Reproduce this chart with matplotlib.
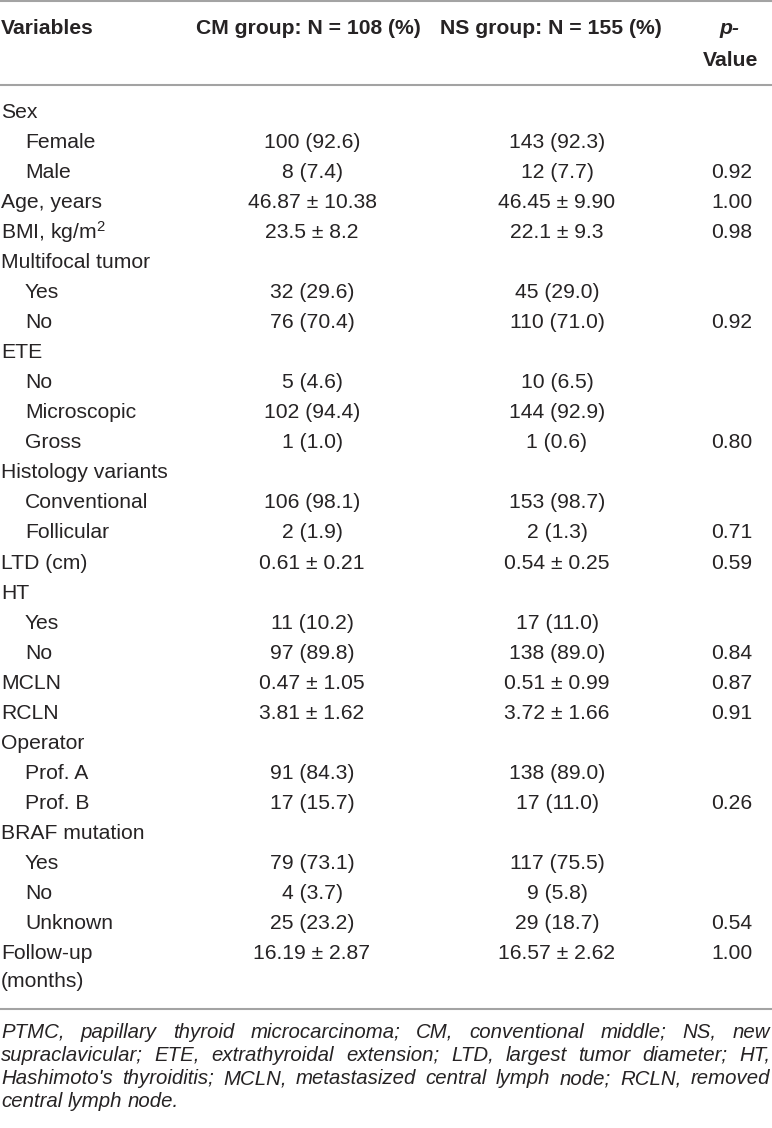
import matplotlib.pyplot as plt

plt.rcParams['font.family'] = ['Liberation Sans', 'DejaVu Sans']
plt.rcParams['mathtext.fontset'] = 'custom'
plt.rcParams['mathtext.rm'] = 'Liberation Sans'
plt.rcParams['mathtext.it'] = 'Liberation Sans:italic'

# Table content
headers = ['Variables', 'CM group: N = 108 (%)', 'NS group: N = 155 (%)']

variables = ['Sex', 'Female', 'Male', 'Age, years', 'BMI, kg/m$^{2}$',
             'Multifocal tumor', 'Yes', 'No', 'ETE', 'No', 'Microscopic', 'Gross',
             'Histology variants', 'Conventional', 'Follicular', 'LTD (cm)', 'HT',
             'Yes', 'No', 'MCLN', 'RCLN', 'Operator', 'Prof. A', 'Prof. B',
             'BRAF mutation', 'Yes', 'No', 'Unknown', 'Follow-up\n(months)']
indent = [0, 1, 1, 0, 0,
          0, 1, 1, 0, 1, 1, 1,
          0, 1, 1, 0, 0,
          1, 1, 0, 0, 0, 1, 1,
          0, 1, 1, 1, 0]
cm_vals = ['', '100 (92.6)', '8 (7.4)', '46.87 ± 10.38', '23.5 ± 8.2',
           '', '32 (29.6)', '76 (70.4)', '', '5 (4.6)', '102 (94.4)', '1 (1.0)',
           '', '106 (98.1)', '2 (1.9)', '0.61 ± 0.21', '',
           '11 (10.2)', '97 (89.8)', '0.47 ± 1.05', '3.81 ± 1.62', '', '91 (84.3)', '17 (15.7)',
           '', '79 (73.1)', '4 (3.7)', '25 (23.2)', '16.19 ± 2.87']
ns_vals = ['', '143 (92.3)', '12 (7.7)', '46.45 ± 9.90', '22.1 ± 9.3',
           '', '45 (29.0)', '110 (71.0)', '', '10 (6.5)', '144 (92.9)', '1 (0.6)',
           '', '153 (98.7)', '2 (1.3)', '0.54 ± 0.25', '',
           '17 (11.0)', '138 (89.0)', '0.51 ± 0.99', '3.72 ± 1.66', '', '138 (89.0)', '17 (11.0)',
           '', '117 (75.5)', '9 (5.8)', '29 (18.7)', '16.57 ± 2.62']
p_vals = ['', '', '0.92', '1.00', '0.98',
          '', '', '0.92', '', '', '', '0.80',
          '', '', '0.71', '0.59', '',
          '', '0.84', '0.87', '0.91', '', '', '0.26',
          '', '', '', '0.54', '1.00']

footnote_lines = [
    "PTMC, papillary thyroid microcarcinoma; CM, conventional middle; NS, new",
    "supraclavicular; ETE, extrathyroidal extension; LTD, largest tumor diameter; HT,",
    "Hashimoto's thyroiditis; MCLN, metastasized central lymph node; RCLN, removed",
    "central lymph node.",
]

# Layout (pixels)
W, H = 772, 1128
txt = '#262324'
rule = '#a3a3a3'
fs = 15.2
x_var, x_ind = 1, 25
x_cm, x_ns, x_p = 312, 557, 732
row0, pitch, sub = 112, 30.07, 28

fig = plt.figure(figsize=(W / 100, H / 100), dpi=100)
ax = fig.add_axes([0, 0, 1, 1])
ax.set_xlim(0, W)
ax.set_ylim(H, 0)
ax.axis('off')

# rules
for y in [1, 85, 1009]:
    ax.plot([0, W], [y, y], color=rule, lw=1.5, solid_capstyle='butt')

# header
ax.text(x_var, 28, headers[0], fontsize=fs, fontweight='bold', color=txt, va='center')
ax.text(308, 28, headers[1], fontsize=fs, fontweight='bold', color=txt, va='center', ha='center')
ax.text(551, 28, headers[2], fontsize=fs, fontweight='bold', color=txt, va='center', ha='center')
ax.text(729, 28, 'p-', fontsize=fs, fontweight='bold', fontstyle='italic', color=txt,
        va='center', ha='center')
ax.text(731, 60, 'Value', fontsize=fs, fontweight='bold', color=txt, va='center', ha='center')

# body rows
for i, name in enumerate(variables):
    y = row0 + i * pitch
    x = x_ind if indent[i] else x_var
    for k, part in enumerate(name.split('\n')):
        ax.text(x, y + k * sub, part, fontsize=fs, color=txt, va='center')
    ax.text(x_cm, y, cm_vals[i], fontsize=fs, color=txt, va='center', ha='center')
    ax.text(x_ns, y, ns_vals[i], fontsize=fs, color=txt, va='center', ha='center')
    ax.text(x_p, y, p_vals[i], fontsize=fs, color=txt, va='center', ha='center')

# justified footnote
renderer = fig.canvas.get_renderer()
fn_fs = 14.7
fn_y0, fn_pitch = 1032, 23.3
left, right = 1, 770


def word_width(s):
    t = ax.text(0, 0, s, fontsize=fn_fs, fontstyle='italic')
    w = t.get_window_extent(renderer).width
    t.remove()
    return w


for j, line in enumerate(footnote_lines):
    y = fn_y0 + j * fn_pitch
    words = line.split()
    widths = [word_width(w) for w in words]
    if j < len(footnote_lines) - 1 and len(words) > 1:
        gap = (right - left - sum(widths)) / (len(words) - 1)
    else:
        gap = word_width('a b') - word_width('a') - word_width('b')
    x = left
    for w, wd in zip(words, widths):
        ax.text(x, y, w, fontsize=fn_fs, fontstyle='italic', color=txt, va='center')
        x += wd + gap

fig.savefig('out.png', dpi=100)
